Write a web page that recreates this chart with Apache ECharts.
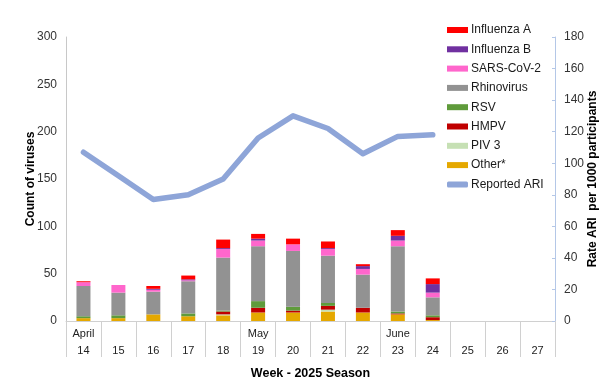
<!DOCTYPE html>
<html>
<head>
<meta charset="utf-8">
<script src="https://cdn.jsdelivr.net/npm/echarts@6/dist/echarts.min.js"></script>
<style>html,body{margin:0;padding:0;background:#fff}#c{width:600px;height:384px}</style>
</head>
<body>
<div id="c"></div>
<script>
const weeks = ['14','15','16','17','18','19','20','21','22','23','24','25','26','27'];
const months = ['April','','','','','May','','','','June','','','',''];
const other = [3,3,7,5,6,9,9,10,9,7,1,null,null,null];
const piv3 = [0,0,0,0,1,0,0,2,0,0,0,null,null,null];
const hmpv = [0,0,0,0,3,5,2,4,5,1,3,null,null,null];
const rsv = [2,3,0,3,1,7,4,3,0,2,2,null,null,null];
const rhino = [32,24,24,34,56,58,59,50,35,69,19,null,null,null];
const sars = [4,8,2,1,9,6,7,7,6,6,5,null,null,null];
const fluB = [0,0,1,1,1,2,0,1,3,5,9,null,null,null];
const fluA = [1,0,3,4,9,5,6,7,2,6,6,null,null,null];
const ari = [107,92,77,80,90,116,130,122,106,117,118,null,null,null];
const leftTicks = {min:0,max:300,interval:50};
const rightTicks = {min:0,max:180,interval:20};

const font = 'Liberation Sans, Arial, sans-serif';
const barSeries = [
  ['Other*', other, '#E5A800'],
  ['PIV 3', piv3, '#C6E0B4'],
  ['HMPV', hmpv, '#C00000'],
  ['RSV', rsv, '#5F9B3B'],
  ['Rhinovirus', rhino, '#929292'],
  ['SARS-CoV-2', sars, '#FF66CC'],
  ['Influenza B', fluB, '#7030A0'],
  ['Influenza A', fluA, '#FF0000']
].map(([name, data, color]) => ({
  name, type:'bar', stack:'v', data, barWidth:14,
  itemStyle:{color}, yAxisIndex:0
}));

const chart = echarts.init(document.getElementById('c'), null, {renderer:'canvas'});
chart.setOption({
  animation:false,
  textStyle:{fontFamily:font},
  grid:{left:66,right:45,top:37,bottom:63,containLabel:false,outerBoundsMode:'none'},
  legend:{
    orient:'vertical', left:447, top:23, padding:0, itemWidth:21, itemHeight:6, itemGap:5.3,
    textStyle:{fontSize:12, color:'#1a1a1a', fontFamily:font, lineHeight:14, padding:[0,0,0,-2]},
    data:[
      {name:'Influenza A', icon:'rect'},
      {name:'Influenza B', icon:'rect'},
      {name:'SARS-CoV-2', icon:'rect'},
      {name:'Rhinovirus', icon:'rect'},
      {name:'RSV', icon:'rect'},
      {name:'HMPV', icon:'rect'},
      {name:'PIV 3', icon:'rect'},
      {name:'Other*', icon:'rect'},
      {name:'Reported ARI', icon:'roundRect', itemStyle:{color:'#8EA5D8'}}
    ]
  },
  xAxis:{
    type:'category', data:weeks, boundaryGap:true,
    axisLine:{lineStyle:{color:'#d0d0d0'}},
    axisTick:{show:true, alignWithLabel:false, length:36, lineStyle:{color:'#d0d0d0'}},
    axisLabel:{
      margin:4, interval:0,
      formatter:(v,i)=>'{m|'+(months[i]||' ')+'}\n{w|'+v+'}',
      rich:{m:{fontSize:11,lineHeight:17,color:'#222',fontFamily:font},w:{fontSize:11,lineHeight:17,color:'#222',fontFamily:font}}
    },
    name:'Week - 2025 Season', nameLocation:'middle', nameGap:46, nameMoveOverlap:false,
    nameTextStyle:{fontWeight:'bold', fontSize:12.5, color:'#000', fontFamily:font}
  },
  yAxis:[{
    type:'value', min:leftTicks.min, max:leftTicks.max, interval:leftTicks.interval,
    splitLine:{show:false},
    axisLine:{show:true, lineStyle:{color:'#c8c8c8'}},
    axisTick:{show:false},
    axisLabel:{fontSize:12, color:'#333', margin:9, fontFamily:font},
    name:'Count of viruses', nameLocation:'middle', nameGap:29, nameRotate:90, nameMoveOverlap:false,
    nameTextStyle:{fontWeight:'bold', fontSize:12, color:'#000', fontFamily:font}
  },{
    type:'value', position:'right', min:rightTicks.min, max:rightTicks.max, interval:rightTicks.interval,
    splitLine:{show:false},
    axisLine:{show:true, lineStyle:{color:'#B4C7E7'}},
    axisTick:{show:true, inside:true, length:3, lineStyle:{color:'#B4C7E7'}},
    axisLabel:{fontSize:12, color:'#333', margin:9, fontFamily:font},
    name:'Rate ARI  per 1000 participants', nameLocation:'middle', nameGap:32, nameRotate:90, nameMoveOverlap:false,
    nameTextStyle:{fontWeight:'bold', fontSize:12, color:'#000', fontFamily:font}
  }],
  series:[...barSeries, {
    name:'Reported ARI', type:'line', yAxisIndex:1, data:ari,
    symbol:'none', lineStyle:{width:5.5, color:'#8EA5D8', cap:'round', join:'round'},
    itemStyle:{color:'#8EA5D8'}
  }]
});
</script>
</body>
</html>
